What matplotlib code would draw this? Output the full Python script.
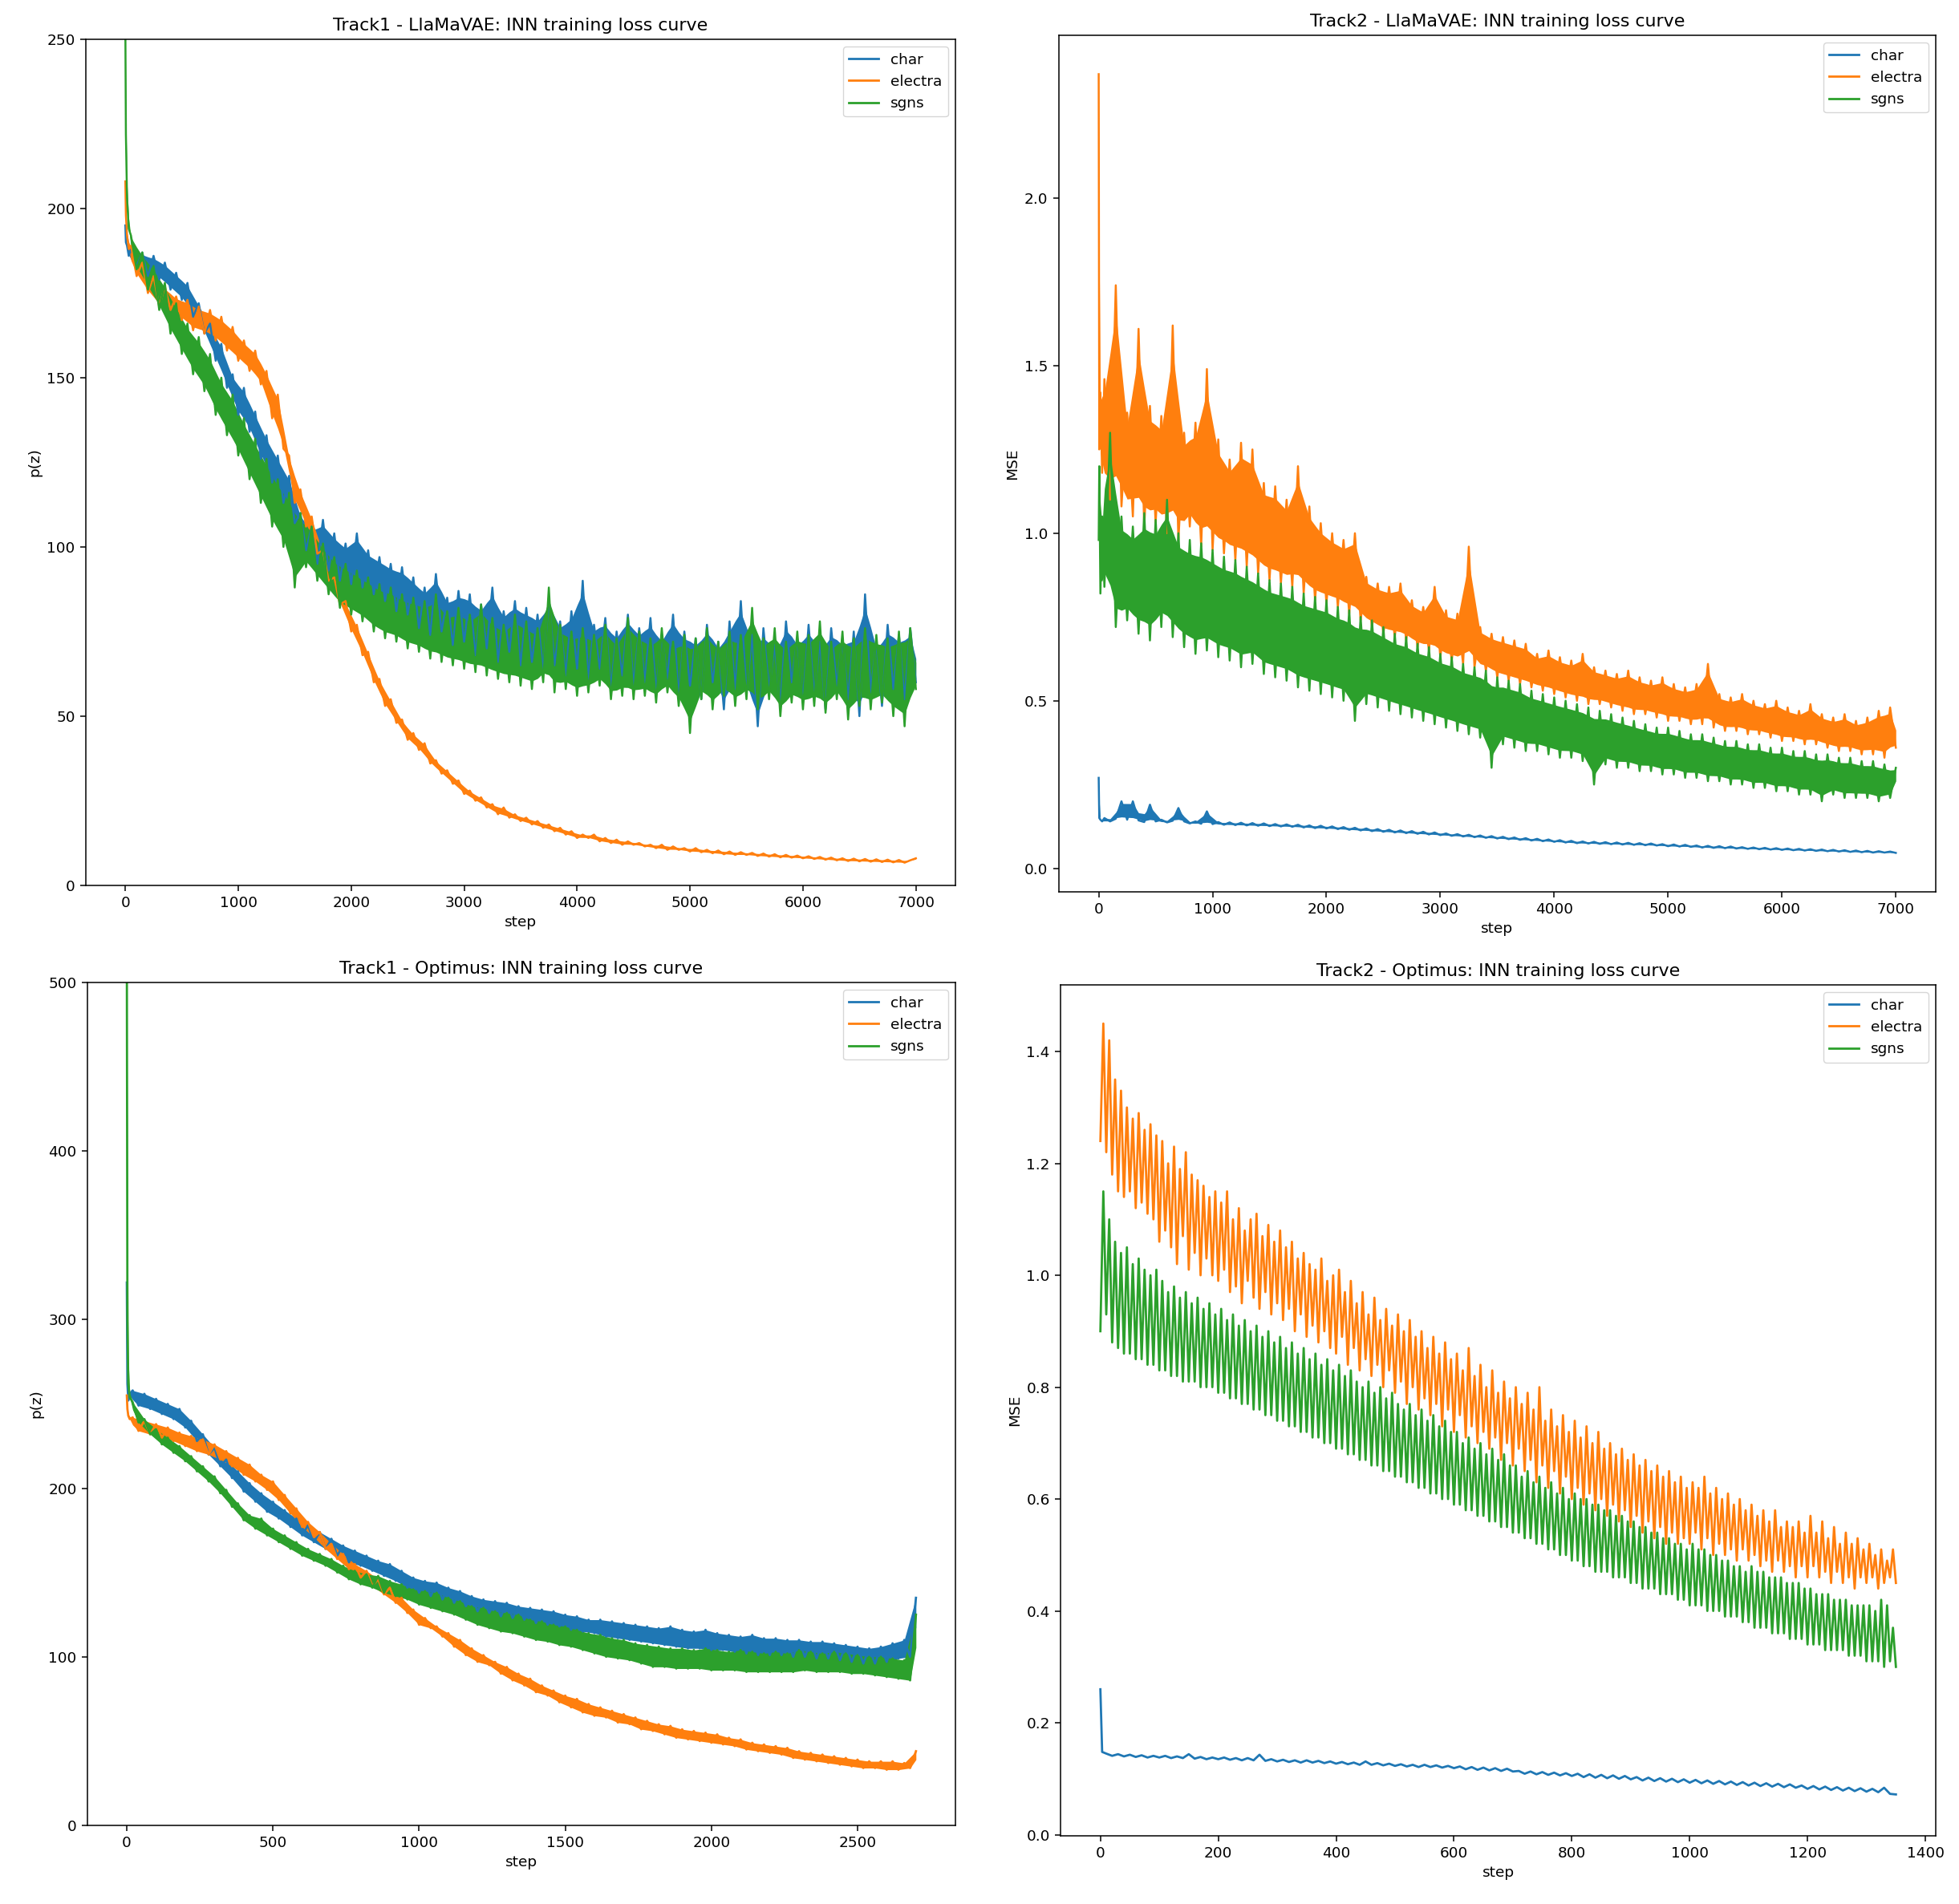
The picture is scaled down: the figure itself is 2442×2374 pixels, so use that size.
import matplotlib
matplotlib.use("Agg")
import matplotlib.pyplot as plt
from matplotlib.ticker import MultipleLocator

# ---------------- data ----------------
labels = ["char", "electra", "sgns"]

# Track1 / Track2 LlaMaVAE steps
steps_llama = [0, 5, 15, 30] + list(range(50, 7001, 50))

t1_llama_char = [
    195, 190, 189, 186,
    188, 183, 187, 180, 186, 179, 184, 176, 181, 173,
    178, 168, 172, 163, 166, 155, 160, 147, 151, 139,
    147, 134, 140, 126, 133, 119, 127, 113, 121, 107,
    110, 99, 106, 95, 108, 93, 104, 90, 101, 89,
    104, 88, 99, 86, 97, 84, 95, 81, 94, 80,
    91, 76, 88, 74, 92, 75, 85, 71, 87, 72,
    86, 68, 83, 70, 88, 66, 81, 69, 84, 65,
    82, 66, 80, 63, 85, 65, 78, 62, 81, 64,
    90, 61, 77, 64, 79, 58, 75, 62, 80, 59,
    76, 60, 79, 57, 74, 61, 80, 56, 75, 59,
    73, 55, 77, 60, 72, 52, 78, 58, 84, 57,
    74, 47, 76, 58, 71, 53, 78, 60, 73, 54,
    77, 56, 72, 52, 76, 59, 73, 55, 75, 50,
    86, 57, 72, 53, 77, 58, 74, 55, 76, 60,
]
t1_llama_electra = [
    208, 198, 192, 188,
    189, 180, 184, 175, 180, 171, 177, 170, 174, 167,
    173, 164, 171, 163, 170, 161, 168, 158, 165, 155,
    161, 152, 158, 148, 152, 138, 145, 129, 127, 113,
    117, 106, 109, 98, 99, 90, 91, 83, 84, 75,
    77, 68, 69, 60, 61, 53, 55, 48, 49, 43,
    45, 40, 42, 36, 37, 33, 34, 30, 31, 27,
    28, 25, 26, 23, 24, 21, 23, 20, 21, 19,
    20, 18, 19, 17, 18, 16, 17, 15, 16, 14,
    15, 14, 15, 13, 14, 12.5, 13.5, 12, 13, 12,
    12.5, 11.5, 12, 11, 12, 10.5, 11.5, 10.5, 11, 10,
    11, 9.8, 10.5, 9.5, 10.3, 9.2, 10, 9, 9.8, 9,
    9.6, 8.7, 9.4, 8.5, 9.2, 8.3, 9, 8.2, 8.8, 8,
    8.6, 7.8, 8.4, 7.6, 8.2, 7.4, 8, 7.2, 7.9, 7.1,
    7.8, 7, 7.7, 6.9, 7.6, 6.8, 7.5, 6.7, 7.4, 8,
]
t1_llama_sgns = [
    255, 222, 203, 194,
    192, 182, 187, 176, 183, 170, 178, 163, 172, 157,
    166, 151, 162, 146, 157, 139, 150, 133, 145, 127,
    138, 120, 132, 113, 126, 106, 120, 100, 116, 88,
    110, 94, 106, 90, 101, 86, 97, 82, 95, 80,
    93, 78, 91, 75, 89, 73, 88, 72, 86, 70,
    85, 69, 84, 67, 86, 66, 81, 65, 82, 64,
    80, 63, 83, 62, 79, 61, 77, 60, 80, 59,
    78, 58, 76, 60, 88, 57, 77, 58, 75, 56,
    76, 57, 74, 59, 77, 55, 73, 56, 79, 55,
    75, 56, 73, 54, 76, 57, 72, 53, 74, 45,
    73, 55, 76, 52, 72, 56, 75, 53, 74, 55,
    82, 52, 73, 55, 76, 50, 72, 54, 75, 52,
    74, 53, 78, 51, 72, 55, 75, 49, 73, 53,
    76, 52, 74, 54, 73, 50, 75, 47, 76, 58,
]

t2_llama_char = [
    0.27, 0.15, 0.145, 0.14,
    0.15, 0.14, 0.148, 0.20, 0.145, 0.20, 0.143, 0.138, 0.19, 0.14,
    0.145, 0.137, 0.142, 0.18, 0.14, 0.134, 0.14, 0.133, 0.17, 0.132,
    0.138, 0.13, 0.137, 0.129, 0.136, 0.128, 0.135, 0.127, 0.134, 0.126,
    0.132, 0.125, 0.131, 0.124, 0.13, 0.122, 0.128, 0.12, 0.127, 0.119,
    0.125, 0.117, 0.123, 0.115, 0.121, 0.113, 0.119, 0.111, 0.117, 0.109,
    0.115, 0.107, 0.113, 0.105, 0.111, 0.103, 0.109, 0.101, 0.107, 0.099,
    0.104, 0.097, 0.102, 0.095, 0.1, 0.093, 0.098, 0.091, 0.096, 0.089,
    0.094, 0.087, 0.092, 0.085, 0.09, 0.083, 0.088, 0.081, 0.086, 0.079,
    0.084, 0.077, 0.082, 0.075, 0.08, 0.074, 0.079, 0.073, 0.078, 0.072,
    0.077, 0.071, 0.076, 0.07, 0.075, 0.069, 0.074, 0.068, 0.072, 0.066,
    0.071, 0.065, 0.07, 0.064, 0.068, 0.062, 0.067, 0.061, 0.066, 0.06,
    0.065, 0.059, 0.063, 0.058, 0.062, 0.057, 0.061, 0.056, 0.06, 0.055,
    0.059, 0.054, 0.058, 0.053, 0.057, 0.052, 0.056, 0.051, 0.055, 0.05,
    0.054, 0.049, 0.053, 0.048, 0.052, 0.047, 0.051, 0.047, 0.05, 0.046,
]
t2_llama_electra = [
    2.37, 1.25, 1.42, 1.18,
    1.46, 1.10, 1.74, 1.08, 1.36, 1.05, 1.61, 1.02, 1.38, 1.03,
    1.35, 1.00, 1.62, 0.98, 1.30, 1.02, 1.33, 0.96, 1.49, 0.95,
    1.28, 0.94, 1.22, 0.92, 1.27, 0.90, 1.25, 0.88, 1.15, 0.86,
    1.14, 0.85, 1.10, 0.84, 1.20, 0.82, 1.08, 0.80, 1.03, 0.79,
    1.00, 0.78, 0.98, 0.76, 1.00, 0.74, 0.87, 0.72, 0.85, 0.70,
    0.84, 0.69, 0.85, 0.68, 0.80, 0.66, 0.78, 0.65, 0.84, 0.63,
    0.77, 0.62, 0.76, 0.61, 0.96, 0.60, 0.72, 0.59, 0.70, 0.57,
    0.69, 0.56, 0.68, 0.55, 0.67, 0.54, 0.64, 0.53, 0.65, 0.52,
    0.63, 0.51, 0.62, 0.50, 0.64, 0.49, 0.60, 0.49, 0.59, 0.48,
    0.58, 0.47, 0.59, 0.46, 0.57, 0.46, 0.56, 0.45, 0.57, 0.44,
    0.55, 0.44, 0.54, 0.43, 0.55, 0.43, 0.61, 0.42, 0.52, 0.41,
    0.51, 0.41, 0.52, 0.40, 0.50, 0.40, 0.49, 0.39, 0.50, 0.38,
    0.48, 0.38, 0.47, 0.37, 0.49, 0.37, 0.46, 0.36, 0.45, 0.35,
    0.46, 0.35, 0.44, 0.34, 0.45, 0.34, 0.47, 0.33, 0.48, 0.36,
]
t2_llama_sgns = [
    0.98, 1.20, 0.82, 1.05,
    0.84, 1.30, 0.72, 1.05, 0.74, 1.02, 0.70, 1.06, 0.68, 1.04,
    0.72, 1.10, 0.69, 1.00, 0.66, 0.98, 0.64, 0.97, 0.65, 0.95,
    0.63, 0.93, 0.62, 0.92, 0.60, 0.90, 0.61, 0.88, 0.58, 0.86,
    0.57, 0.85, 0.56, 0.84, 0.54, 0.82, 0.53, 0.81, 0.52, 0.80,
    0.51, 0.78, 0.50, 0.77, 0.44, 0.75, 0.49, 0.74, 0.48, 0.72,
    0.47, 0.70, 0.46, 0.69, 0.45, 0.67, 0.44, 0.66, 0.43, 0.64,
    0.42, 0.63, 0.41, 0.61, 0.40, 0.60, 0.39, 0.59, 0.30, 0.57,
    0.37, 0.56, 0.36, 0.55, 0.35, 0.53, 0.35, 0.52, 0.34, 0.51,
    0.33, 0.50, 0.33, 0.49, 0.32, 0.48, 0.25, 0.47, 0.31, 0.46,
    0.30, 0.45, 0.30, 0.44, 0.29, 0.43, 0.29, 0.42, 0.28, 0.42,
    0.28, 0.41, 0.27, 0.40, 0.27, 0.40, 0.26, 0.39, 0.26, 0.38,
    0.25, 0.38, 0.25, 0.37, 0.24, 0.37, 0.24, 0.36, 0.23, 0.36,
    0.23, 0.35, 0.22, 0.35, 0.22, 0.34, 0.20, 0.34, 0.22, 0.33,
    0.21, 0.33, 0.21, 0.32, 0.21, 0.32, 0.20, 0.31, 0.21, 0.30,
]

# Track1 Optimus
steps_t1_opt = [0, 2, 5, 10] + list(range(20, 2701, 20))
t1_opt_char = [
    322, 262, 252, 256,
    258, 249, 256, 247, 253, 244, 250, 241, 247, 236,
    240, 228, 232, 220, 224, 213, 217, 206, 210, 198,
    203, 192, 197, 186, 192, 182, 187, 177, 182, 172,
    178, 168, 174, 164, 170, 160, 166, 156, 163, 154,
    160, 151, 157, 148, 155, 145, 151, 141, 147, 138,
    145, 136, 144, 134, 141, 132, 139, 130, 136, 127,
    134, 126, 133, 124, 132, 123, 130, 122, 129, 120,
    128, 119, 127, 118, 125, 116, 124, 115, 122, 114,
    122, 112, 121, 111, 120, 110, 119, 109, 118, 108,
    117, 107, 118, 106, 116, 105, 115, 105, 116, 104,
    114, 104, 113, 103, 112, 102, 113, 101, 111, 101,
    111, 101, 110, 100, 110, 100, 109, 99, 109, 99,
    108, 98, 107, 97, 106, 96, 105, 96, 106, 97,
    108, 99, 110, 100, 135,
]
t1_opt_electra = [
    255, 247, 243, 241,
    242, 234, 240, 232, 238, 230, 236, 228, 233, 225,
    231, 222, 229, 220, 226, 217, 222, 213, 218, 208,
    214, 204, 208, 199, 204, 193, 196, 185, 188, 177,
    180, 171, 174, 164, 167, 158, 161, 152, 155, 147,
    151, 142, 146, 137, 141, 132, 135, 126, 128, 119,
    123, 117, 118, 112, 114, 106, 110, 101, 105, 97,
    101, 95, 97, 90, 94, 86, 90, 83, 87, 79,
    83, 77, 80, 73, 77, 70, 75, 67, 72, 65,
    70, 64, 68, 61, 66, 60, 64, 57, 62, 56,
    60, 54, 59, 52, 57, 51, 56, 50, 55, 49,
    54, 48, 52, 47, 51, 45, 49, 44, 48, 43,
    47, 42, 46, 40, 44, 39, 43, 38, 42, 37,
    41, 36, 40, 35, 39, 34, 38, 34, 38, 33,
    38, 33, 37, 34, 44,
]
t1_opt_sgns = [
    520, 300, 262, 254,
    251, 239, 241, 232, 235, 226, 230, 221, 225, 216,
    219, 210, 213, 204, 207, 197, 199, 189, 191, 181,
    184, 176, 182, 172, 176, 168, 172, 164, 168, 160,
    164, 157, 161, 154, 158, 150, 154, 146, 151, 143,
    149, 141, 148, 138, 145, 136, 143, 134, 140, 131,
    139, 129, 138, 127, 135, 125, 133, 122, 130, 119,
    129, 117, 127, 115, 126, 114, 125, 112, 122, 110,
    121, 109, 119, 107, 118, 106, 116, 104, 114, 102,
    113, 100, 111, 99, 110, 98, 108, 96, 107, 94,
    106, 94, 105, 93, 105, 93, 104, 93, 105, 92,
    104, 92, 103, 92, 104, 91, 103, 91, 102, 91,
    103, 91, 102, 91, 104, 92, 103, 91, 102, 91,
    103, 91, 102, 90, 101, 90, 100, 89, 100, 88,
    99, 87, 98, 86, 125,
]

# Track2 Optimus
steps_t2_opt = list(range(0, 1351, 5))
steps_t2_opt_char = [0, 3] + list(range(10, 1351, 10))
t2_opt_char = [
    0.26, 0.148,
    0.145, 0.141, 0.144, 0.140, 0.143, 0.139, 0.142, 0.138, 0.141, 0.138,
    0.141, 0.137, 0.140, 0.137, 0.144, 0.136, 0.139, 0.135, 0.138, 0.135,
    0.138, 0.134, 0.137, 0.133, 0.137, 0.133, 0.143, 0.132, 0.135, 0.131,
    0.134, 0.130, 0.133, 0.129, 0.133, 0.129, 0.132, 0.128, 0.131, 0.127,
    0.130, 0.126, 0.129, 0.125, 0.131, 0.125, 0.128, 0.124, 0.127, 0.123,
    0.126, 0.122, 0.125, 0.121, 0.125, 0.121, 0.124, 0.120, 0.123, 0.119,
    0.122, 0.117, 0.121, 0.116, 0.120, 0.115, 0.119, 0.114, 0.118, 0.113,
    0.114, 0.109, 0.113, 0.108, 0.112, 0.107, 0.111, 0.106, 0.110, 0.105,
    0.109, 0.103, 0.108, 0.102, 0.107, 0.101, 0.106, 0.100, 0.105, 0.099,
    0.103, 0.097, 0.102, 0.096, 0.101, 0.095, 0.100, 0.094, 0.099, 0.093,
    0.098, 0.092, 0.097, 0.091, 0.096, 0.090, 0.095, 0.089, 0.094, 0.088,
    0.093, 0.087, 0.092, 0.086, 0.091, 0.085, 0.090, 0.084, 0.088, 0.082,
    0.087, 0.081, 0.086, 0.080, 0.085, 0.079, 0.084, 0.078, 0.083, 0.077,
    0.082, 0.076, 0.084, 0.073, 0.072,
]
t2_opt_electra = [
    1.24, 1.45, 1.22, 1.42, 1.18, 1.35, 1.15, 1.33, 1.14, 1.30, 1.15, 1.28, 1.12, 1.29, 1.13, 1.26, 1.11, 1.27, 1.10, 1.25,
    1.06, 1.24, 1.08, 1.20, 1.05, 1.23, 1.02, 1.19, 1.07, 1.22, 1.01, 1.18, 1.04, 1.17, 1.00, 1.16, 1.03, 1.14, 1.00, 1.15,
    0.99, 1.13, 1.01, 1.15, 0.97, 1.10, 0.98, 1.12, 0.95, 1.08, 0.99, 1.10, 0.96, 1.11, 0.94, 1.07, 0.97, 1.09, 0.93, 1.06,
    0.95, 1.08, 0.92, 1.05, 0.94, 1.06, 0.90, 1.03, 0.93, 1.04, 0.89, 1.02, 0.91, 1.01, 0.88, 1.03, 0.90, 0.99, 0.87, 1.00,
    0.86, 1.01, 0.89, 0.97, 0.84, 0.99, 0.87, 0.95, 0.83, 0.97, 0.85, 0.93, 0.82, 0.96, 0.84, 0.92, 0.80, 0.94, 0.83, 0.91,
    0.79, 0.93, 0.81, 0.90, 0.77, 0.92, 0.80, 0.89, 0.76, 0.90, 0.78, 0.87, 0.75, 0.89, 0.77, 0.86, 0.73, 0.88, 0.76, 0.85,
    0.72, 0.86, 0.75, 0.83, 0.71, 0.87, 0.73, 0.82, 0.70, 0.84, 0.72, 0.80, 0.69, 0.83, 0.71, 0.79, 0.67, 0.81, 0.70, 0.78,
    0.66, 0.80, 0.69, 0.77, 0.65, 0.79, 0.67, 0.76, 0.63, 0.80, 0.66, 0.74, 0.62, 0.76, 0.65, 0.73, 0.61, 0.75, 0.64, 0.72,
    0.60, 0.74, 0.62, 0.71, 0.59, 0.73, 0.61, 0.70, 0.58, 0.72, 0.60, 0.69, 0.57, 0.70, 0.59, 0.68, 0.56, 0.69, 0.58, 0.67,
    0.55, 0.68, 0.57, 0.66, 0.54, 0.67, 0.56, 0.65, 0.53, 0.66, 0.55, 0.64, 0.52, 0.65, 0.54, 0.63, 0.52, 0.64, 0.53, 0.62,
    0.52, 0.63, 0.54, 0.62, 0.51, 0.64, 0.53, 0.61, 0.50, 0.62, 0.52, 0.60, 0.50, 0.61, 0.51, 0.59, 0.49, 0.60, 0.51, 0.58,
    0.49, 0.59, 0.50, 0.57, 0.48, 0.58, 0.49, 0.56, 0.47, 0.58, 0.49, 0.55, 0.47, 0.56, 0.48, 0.55, 0.46, 0.56, 0.48, 0.54,
    0.46, 0.57, 0.48, 0.54, 0.46, 0.56, 0.47, 0.53, 0.45, 0.55, 0.47, 0.52, 0.45, 0.54, 0.46, 0.52, 0.44, 0.53, 0.46, 0.51,
    0.45, 0.52, 0.46, 0.50, 0.44, 0.51, 0.45, 0.49, 0.46, 0.51,
    0.45,
]
t2_opt_sgns = [
    0.90, 1.15, 0.93, 1.10, 0.88, 1.06, 0.87, 1.04, 0.86, 1.05, 0.86, 1.02, 0.85, 1.03, 0.85, 1.01, 0.84, 1.00, 0.84, 1.01,
    0.83, 0.99, 0.83, 0.97, 0.82, 0.98, 0.82, 0.96, 0.81, 0.97, 0.81, 0.95, 0.81, 0.96, 0.80, 0.94, 0.80, 0.95, 0.80, 0.93,
    0.79, 0.94, 0.79, 0.92, 0.78, 0.93, 0.78, 0.91, 0.77, 0.92, 0.77, 0.90, 0.76, 0.91, 0.76, 0.89, 0.75, 0.90, 0.75, 0.88,
    0.74, 0.89, 0.74, 0.87, 0.73, 0.88, 0.73, 0.86, 0.72, 0.87, 0.72, 0.85, 0.71, 0.86, 0.71, 0.84, 0.70, 0.85, 0.70, 0.83,
    0.69, 0.84, 0.69, 0.82, 0.68, 0.83, 0.68, 0.81, 0.67, 0.80, 0.67, 0.81, 0.66, 0.79, 0.66, 0.80, 0.65, 0.78, 0.65, 0.79,
    0.64, 0.77, 0.64, 0.76, 0.63, 0.77, 0.63, 0.75, 0.62, 0.76, 0.62, 0.74, 0.61, 0.75, 0.61, 0.73, 0.60, 0.74, 0.60, 0.72,
    0.59, 0.72, 0.59, 0.70, 0.58, 0.71, 0.58, 0.69, 0.57, 0.70, 0.57, 0.68, 0.56, 0.69, 0.56, 0.67, 0.55, 0.68, 0.55, 0.66,
    0.54, 0.66, 0.54, 0.64, 0.53, 0.65, 0.53, 0.63, 0.52, 0.64, 0.52, 0.62, 0.51, 0.63, 0.51, 0.61, 0.50, 0.62, 0.50, 0.60,
    0.49, 0.61, 0.49, 0.60, 0.48, 0.60, 0.48, 0.59, 0.47, 0.59, 0.47, 0.58, 0.47, 0.58, 0.46, 0.57, 0.46, 0.57, 0.46, 0.56,
    0.45, 0.56, 0.45, 0.55, 0.44, 0.55, 0.44, 0.54, 0.44, 0.54, 0.43, 0.53, 0.43, 0.53, 0.43, 0.52, 0.42, 0.52, 0.42, 0.51,
    0.41, 0.52, 0.41, 0.51, 0.41, 0.51, 0.40, 0.50, 0.40, 0.50, 0.40, 0.49, 0.39, 0.49, 0.39, 0.48, 0.39, 0.48, 0.38, 0.47,
    0.38, 0.48, 0.37, 0.47, 0.37, 0.47, 0.37, 0.46, 0.36, 0.46, 0.36, 0.46, 0.36, 0.45, 0.35, 0.45, 0.35, 0.45, 0.35, 0.44,
    0.34, 0.44, 0.34, 0.43, 0.34, 0.43, 0.33, 0.43, 0.33, 0.42, 0.33, 0.42, 0.33, 0.42, 0.32, 0.41, 0.32, 0.41, 0.32, 0.41,
    0.31, 0.41, 0.31, 0.40, 0.31, 0.42, 0.30, 0.41, 0.31, 0.37,
    0.30,
]

titles = [
    "Track1 - LlaMaVAE: INN training loss curve",
    "Track2 - LlaMaVAE: INN training loss curve",
    "Track1 - Optimus: INN training loss curve",
    "Track2 - Optimus: INN training loss curve",
]
ylabels = ["p(z)", "MSE", "p(z)", "MSE"]


def noise_band(y, frac):
    """Dense core of a noisy series: between its peak and trough polylines,
    shrunk towards the middle by `frac` so the individual spikes stick out."""
    lo, hi = [], []
    n = len(y)
    for i in range(n):
        a = y[i - 1] if i > 0 else y[i]
        b = y[i + 1] if i < n - 1 else y[i]
        m = (a + b) / 2.0
        top, bot = max(y[i], m), min(y[i], m)
        mid = (top + bot) / 2.0
        hi.append(mid + frac * (top - mid))
        lo.append(mid - frac * (mid - bot))
    return lo, hi


# ---------------- style ----------------
FS = 13.3
plt.rcParams.update({
    "font.family": "DejaVu Sans",
    "font.size": FS,
    "axes.linewidth": 1.1,
    "xtick.major.width": 1.1,
    "ytick.major.width": 1.1,
    "xtick.major.size": 4.8,
    "ytick.major.size": 4.8,
    "xtick.major.pad": 4.8,
    "ytick.major.pad": 4.8,
    "lines.linewidth": 2.0,
})

fig = plt.figure(figsize=(24.42, 23.74), dpi=100)
positions = [
    [0.0438, 0.5350, 0.4439, 0.4444],
    [0.5405, 0.5316, 0.4476, 0.4499],
    [0.0446, 0.0413, 0.4431, 0.4427],
    [0.5414, 0.0358, 0.4467, 0.4469],
]
axes = [fig.add_axes(p) for p in positions]

# (x arrays, y arrays, core-band fraction or None, line width)
panels = [
    ([steps_llama] * 3, [t1_llama_char, t1_llama_electra, t1_llama_sgns], 0.75, 1.8),
    ([steps_llama] * 3, [t2_llama_char, t2_llama_electra, t2_llama_sgns], 0.75, 1.8),
    ([steps_t1_opt] * 3, [t1_opt_char, t1_opt_electra, t1_opt_sgns], 1.0, 2.0),
    ([steps_t2_opt_char, steps_t2_opt, steps_t2_opt], [t2_opt_char, t2_opt_electra, t2_opt_sgns], None, 2.0),
]
colors = ["#1f77b4", "#ff7f0e", "#2ca02c"]

for i, (ax, (xs, ys, frac, lw)) in enumerate(zip(axes, panels)):
    for x, y, lab, c in zip(xs, ys, labels, colors):
        n = min(len(x), len(y))
        x, y = x[:n], y[:n]
        if frac is not None:
            lo, hi = noise_band(y, frac)
            ax.fill_between(x, lo, hi, color=c, lw=0)
        ax.plot(x, y, color=c, label=lab, lw=lw)
    ax.set_title(titles[i], fontsize=FS * 1.2, pad=8)
    ax.set_xlabel("step", fontsize=FS)
    ax.set_ylabel(ylabels[i], fontsize=FS)
    leg = ax.legend(loc="upper right", fontsize=FS, handlelength=2.0)
    for h in leg.get_lines():
        h.set_linewidth(2.0)

axes[0].set_ylim(0, 250)
axes[0].xaxis.set_major_locator(MultipleLocator(1000))
axes[0].yaxis.set_major_locator(MultipleLocator(50))
axes[1].xaxis.set_major_locator(MultipleLocator(1000))
axes[1].yaxis.set_major_locator(MultipleLocator(0.5))
axes[2].set_ylim(0, 500)
axes[2].xaxis.set_major_locator(MultipleLocator(500))
axes[2].yaxis.set_major_locator(MultipleLocator(100))
axes[3].set_ylim(-0.002, 1.519)
axes[3].xaxis.set_major_locator(MultipleLocator(200))
axes[3].yaxis.set_major_locator(MultipleLocator(0.2))

fig.savefig("out.png", dpi=100)
